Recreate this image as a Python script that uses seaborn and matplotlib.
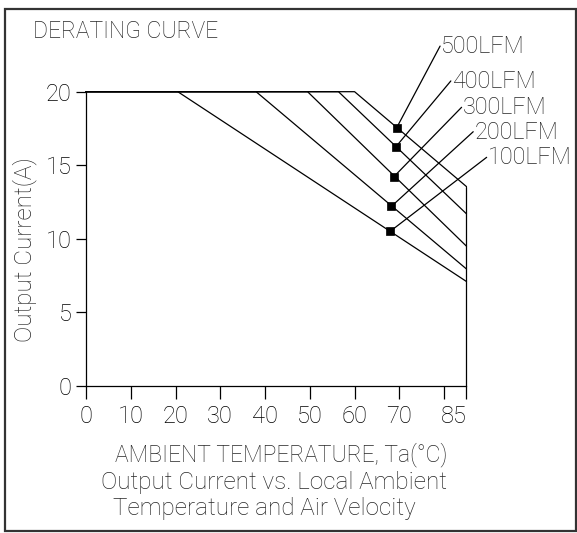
import matplotlib
matplotlib.use("Agg")
import matplotlib.pyplot as plt
from matplotlib.patches import Rectangle
import seaborn as sns
import pandas as pd

# derating data
airflow = ['100LFM', '200LFM', '300LFM', '400LFM', '500LFM']
max_current = 20
derate_start = [20.5, 38, 49.5, 56.4, 60]        # Ta where derating starts (A = 20)
current_at_85 = [7.1, 7.95, 9.5, 11.7, 13.55]     # output current at Ta = 85C
marker_temp = [67.9, 68.2, 68.7, 69.2, 69.4]
marker_current = [10.5, 12.2, 14.2, 16.25, 17.55]
x_ticks = [0, 10, 20, 30, 40, 50, 60, 70, 80, 85]
x_ticklabels = ['0', '10', '20', '30', '40', '50', '60', '70', '', '85']
y_ticks = [0, 5, 10, 15, 20]

# leader line ends (label anchors), layout only
label_anchor = [(89.5, 15.54), (86.5, 17.28), (83.9, 18.94), (81.5, 20.73), (79.1, 23.1)]

rows = []
for name, t0, i85 in zip(airflow, derate_start, current_at_85):
    rows += [(name, 0, max_current), (name, t0, max_current), (name, 85, i85)]
df = pd.DataFrame(rows, columns=['airflow', 'temp', 'current'])
marks = pd.DataFrame({'airflow': airflow, 'temp': marker_temp, 'current': marker_current})

sns.set_style('white')
plt.rcParams['font.family'] = ['Roboto', 'DejaVu Sans']
plt.rcParams['font.weight'] = 'light'

W, H = 577, 533
fig = plt.figure(figsize=(W / 100, H / 100), dpi=100)
ax = fig.add_axes([86 / W, 1 - 386 / H, (466.5 - 86) / W, (386 - 91.7) / H])

lw = 0.9
sns.lineplot(data=df, x='temp', y='current', hue='airflow', units='airflow',
             estimator=None, sort=False, palette=['black'] * 5, linewidth=lw,
             legend=False, ax=ax, clip_on=False)
ax.plot([85, 85], [current_at_85[-1], 0], color='black', lw=lw, clip_on=False)
sns.scatterplot(data=marks, x='temp', y='current', marker='s', s=28, color='black',
                edgecolor='black', linewidth=0.5, ax=ax, clip_on=False, zorder=5)

for name, mx, my, (ax_, ay_) in zip(airflow, marker_temp, marker_current, label_anchor):
    ax.plot([mx, ax_], [my, ay_], color='black', lw=lw, clip_on=False)
    ax.annotate(name, xy=(ax_, ay_), xytext=(1, -7), textcoords='offset pixels',
                ha='left', va='baseline', fontsize=16.8, annotation_clip=False)

ax.set_xlim(0, 85)
ax.set_ylim(0, 20)
ax.set_xticks(x_ticks)
ax.set_xticklabels(x_ticklabels)
ax.set_yticks(y_ticks)
ax.tick_params(axis='x', direction='out', length=9.5, width=lw, pad=4, labelsize=17, colors='black')
ax.tick_params(axis='y', direction='out', length=7.2, width=lw, pad=3, labelsize=17, colors='black')
ax.tick_params(bottom=True, left=True)
for lab in ax.get_xticklabels():
    if lab.get_text() == '85':
        lab.set_horizontalalignment('right')
for s in ['top', 'right']:
    ax.spines[s].set_visible(False)
for s in ['left', 'bottom']:
    ax.spines[s].set_linewidth(lw)
    ax.spines[s].set_color('black')
ax.set_xlabel('')
ax.set_ylabel('')
ax.patch.set_alpha(0)

fig.text(33 / W, 1 - 31 / H, 'DERATING CURVE', ha='left', va='center', fontsize=16.5)
fig.text(25 / W, 1 - 250 / H, 'Output Current(A)', rotation=90, ha='center', va='center', fontsize=17.5)
fig.text(281 / W, 1 - 455 / H, 'AMBIENT TEMPERATURE, Ta(°C)', ha='center', va='center', fontsize=16.5)
fig.text(274 / W, 1 - 483 / H, 'Output Current vs. Local Ambient', ha='center', va='center', fontsize=17.5)
fig.text(264 / W, 1 - 508 / H, 'Temperature and Air Velocity', ha='center', va='center', fontsize=17.5)

fig.patches.append(Rectangle((5 / W, 1 - 531 / H), 571 / W, 522 / H, transform=fig.transFigure,
                             fill=False, edgecolor='#333333', linewidth=1.6))

fig.savefig('out.png', dpi=100)
